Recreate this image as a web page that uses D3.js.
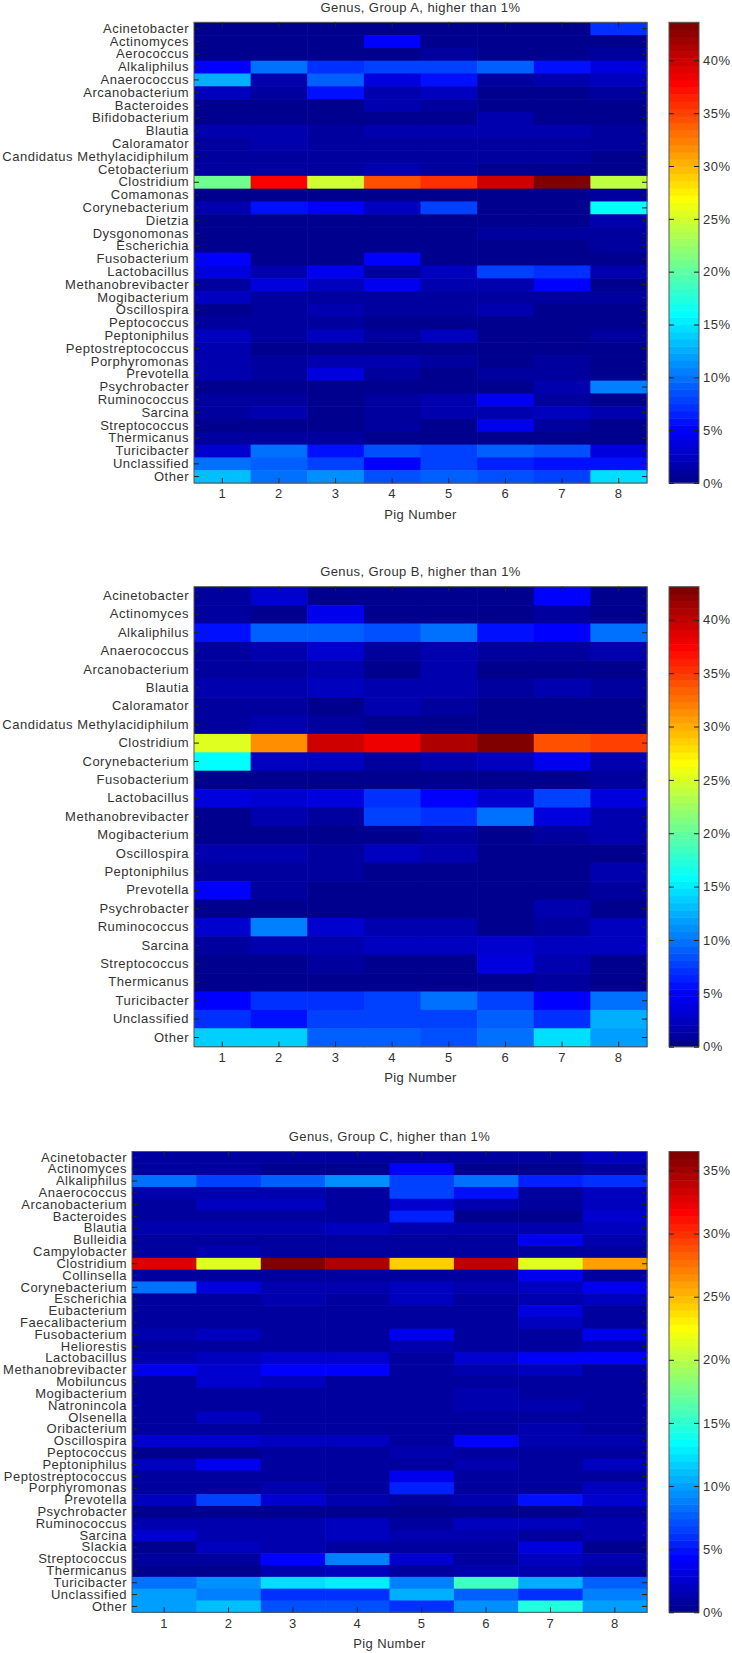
<!DOCTYPE html>
<html><head><meta charset="utf-8">
<script src="https://cdn.jsdelivr.net/npm/d3@7"></script>
<style>
html,body{margin:0;padding:0;background:#fff;}
svg text{font-family:"Liberation Sans",Arial,Helvetica,sans-serif;}
</style></head><body>
<svg id="chart" width="732" height="1653"></svg>
<script>
const pigs = ["1","2","3","4","5","6","7","8"];
const xLabel = "Pig Number";

const titleA = "Genus, Group A, higher than 1%";
const generaA = ["Acinetobacter","Actinomyces","Aerococcus","Alkaliphilus","Anaerococcus","Arcanobacterium","Bacteroides","Bifidobacterium","Blautia","Caloramator","Candidatus Methylacidiphilum","Cetobacterium","Clostridium","Comamonas","Corynebacterium","Dietzia","Dysgonomonas","Escherichia","Fusobacterium","Lactobacillus","Methanobrevibacter","Mogibacterium","Oscillospira","Peptococcus","Peptoniphilus","Peptostreptococcus","Porphyromonas","Prevotella","Psychrobacter","Ruminococcus","Sarcina","Streptococcus","Thermicanus","Turicibacter","Unclassified","Other"];
const valuesA = [
  [0.3,0.3,0.3,0.4,0.3,0.3,0.3,7.0],
  [0.3,0.2,0.2,4.8,0.3,0.3,0.3,0.5],
  [0.3,0.3,0.3,0.5,1.0,0.5,0.5,1.0],
  [5.2,9.8,7.3,7.5,8.0,9.5,5.5,3.5],
  [12.5,1.5,9.5,3.5,6.0,0.8,1.8,2.5],
  [2.7,0.8,6.0,2.0,2.3,0.5,0.5,1.3],
  [0.5,0.5,0.5,1.8,0.8,0.5,0.5,0.5],
  [0.4,0.4,0.4,0.4,0.4,1.5,0.5,0.4],
  [2.0,1.5,1.3,1.8,1.8,1.8,1.8,0.8],
  [1.0,1.8,1.0,0.7,0.7,0.7,0.7,0.7],
  [0.8,0.8,1.2,0.8,0.8,1.2,0.8,0.6],
  [1.3,1.0,1.0,1.5,0.8,0.6,0.6,0.6],
  [20.5,38.0,25.0,34.5,36.0,40.0,43.6,24.5],
  [0.5,0.5,0.5,0.5,0.5,0.5,0.5,1.0],
  [1.5,5.5,5.3,2.7,7.5,0.5,0.5,16.0],
  [0.4,0.4,0.4,0.4,0.4,0.4,0.4,2.0],
  [0.4,0.4,0.4,0.4,0.4,1.2,1.2,0.8],
  [0.5,0.5,0.5,0.5,0.5,0.5,0.5,1.0],
  [4.8,0.5,0.5,5.3,0.5,0.5,0.5,0.6],
  [3.5,2.0,4.5,0.8,2.3,7.5,7.0,1.8],
  [0.8,4.0,2.7,4.5,2.0,1.8,5.0,0.6],
  [2.2,1.2,1.2,0.8,0.8,0.8,0.8,0.8],
  [0.4,1.0,1.5,1.2,0.8,1.8,0.6,0.6],
  [1.2,0.8,1.2,0.6,0.6,0.6,0.6,0.6],
  [2.7,0.8,2.5,1.2,2.6,0.6,0.6,1.0],
  [1.8,0.6,0.6,0.6,0.6,0.6,0.6,0.6],
  [1.8,0.8,1.5,1.5,1.0,0.6,0.8,0.6],
  [2.0,0.8,3.8,0.8,0.5,1.0,0.8,0.5],
  [0.6,0.6,0.6,0.6,0.6,0.6,1.5,10.3],
  [0.8,0.8,0.6,0.8,1.5,4.2,0.8,0.4],
  [0.8,1.8,0.6,1.2,1.8,1.8,2.6,1.8],
  [0.4,0.6,0.4,1.2,0.6,4.5,1.0,0.6],
  [0.8,0.8,0.8,0.3,0.4,0.3,0.6,0.3],
  [3.2,10.0,5.5,8.8,7.8,9.5,8.8,3.5],
  [10.0,9.5,7.8,5.0,7.8,6.5,6.0,5.5],
  [13.5,9.8,11.5,8.8,9.2,8.8,7.8,14.5]
];
const cbTicksA = [0,5,10,15,20,25,30,35,40];

const titleB = "Genus, Group B, higher than 1%";
const generaB = ["Acinetobacter","Actinomyces","Alkaliphilus","Anaerococcus","Arcanobacterium","Blautia","Caloramator","Candidatus Methylacidiphilum","Clostridium","Corynebacterium","Fusobacterium","Lactobacillus","Methanobrevibacter","Mogibacterium","Oscillospira","Peptoniphilus","Prevotella","Psychrobacter","Ruminococcus","Sarcina","Streptococcus","Thermicanus","Turicibacter","Unclassified","Other"];
const valuesB = [
  [0.8,2.7,0.5,0.5,0.5,0.5,5.3,0.6],
  [1.0,0.6,4.3,0.5,0.5,0.5,1.0,0.6],
  [6.0,9.0,9.0,8.5,9.5,6.0,4.8,9.5],
  [0.8,1.5,3.2,0.8,1.5,1.2,1.0,2.0],
  [1.2,0.8,1.8,0.6,2.0,0.6,0.6,0.6],
  [2.0,1.5,2.2,1.5,1.5,1.2,1.8,1.2],
  [1.2,1.2,0.5,1.8,1.2,0.6,0.6,0.6],
  [1.0,1.8,1.2,0.6,0.6,0.6,0.6,0.6],
  [25.0,31.5,39.5,38.0,41.0,43.1,34.0,35.0],
  [16.0,2.5,2.5,1.0,1.8,2.2,4.5,2.0],
  [0.5,0.5,0.5,0.5,0.5,0.5,0.5,0.8],
  [3.5,2.8,3.8,7.0,5.0,2.8,7.5,3.5],
  [0.5,1.8,1.0,8.0,7.0,9.5,3.5,1.8],
  [0.6,0.3,0.3,0.3,0.8,0.5,1.0,2.0],
  [1.8,1.5,1.0,2.5,2.0,0.5,0.5,0.3],
  [1.0,1.0,0.8,0.5,0.5,0.5,0.5,1.8],
  [5.0,1.0,0.5,0.5,0.5,0.5,0.5,1.2],
  [0.4,0.4,0.4,0.4,0.4,0.4,1.5,0.6],
  [3.0,10.5,3.0,2.0,1.8,0.4,1.0,2.2],
  [0.8,1.8,1.8,2.5,2.5,3.3,2.5,2.2],
  [0.6,0.3,1.2,0.6,0.3,4.0,1.5,0.3],
  [0.6,0.6,0.6,0.6,0.3,0.3,0.8,0.3],
  [5.0,7.0,7.0,8.0,9.5,7.5,4.8,10.0],
  [7.0,6.0,7.5,8.0,8.0,9.0,7.0,12.5],
  [14.0,13.8,9.0,9.0,8.5,10.0,14.5,12.0]
];
const cbTicksB = [0,5,10,15,20,25,30,35,40];

const titleC = "Genus, Group C, higher than 1%";
const generaC = ["Acinetobacter","Actinomyces","Alkaliphilus","Anaerococcus","Arcanobacterium","Bacteroides","Blautia","Bulleidia","Campylobacter","Clostridium","Collinsella","Corynebacterium","Escherichia","Eubacterium","Faecalibacterium","Fusobacterium","Heliorestis","Lactobacillus","Methanobrevibacter","Mobiluncus","Mogibacterium","Natronincola","Olsenella","Oribacterium","Oscillospira","Peptococcus","Peptoniphilus","Peptostreptococcus","Porphyromonas","Prevotella","Psychrobacter","Ruminococcus","Sarcina","Slackia","Streptococcus","Thermicanus","Turicibacter","Unclassified","Other"];
const valuesC = [
  [0.6,0.6,0.6,0.6,0.6,0.6,0.6,2.0],
  [0.8,0.8,0.5,0.5,4.3,0.5,0.5,1.0],
  [8.2,6.3,7.8,9.3,6.8,8.5,5.5,5.8],
  [1.2,1.5,1.2,0.6,6.5,4.8,0.8,1.8],
  [0.8,2.0,2.0,0.6,2.3,1.5,0.8,2.0],
  [0.8,0.8,0.6,0.6,5.2,0.5,0.5,2.3],
  [1.2,1.2,1.2,2.0,1.2,1.2,1.5,1.8],
  [0.6,0.6,0.6,0.6,0.6,0.6,3.5,1.5],
  [0.6,1.2,0.6,0.6,0.6,0.6,0.6,0.6],
  [32.6,21.3,36.5,34.5,24.2,34.0,21.5,26.2],
  [0.6,0.6,0.6,0.6,0.6,0.6,3.8,0.8],
  [8.0,3.2,1.2,1.2,2.0,1.5,1.8,3.5],
  [0.8,0.8,1.5,0.8,2.0,1.0,1.2,1.8],
  [0.6,0.6,0.6,0.6,0.6,0.6,3.0,0.8],
  [0.6,0.6,0.6,0.6,0.6,0.6,2.0,0.6],
  [1.5,2.0,0.6,0.6,3.5,0.6,0.6,3.8],
  [0.8,0.8,0.6,0.6,1.2,0.8,0.8,1.2],
  [1.2,1.8,2.3,2.3,1.0,2.3,4.3,4.0],
  [3.8,2.6,4.0,4.0,0.8,1.2,2.0,0.6],
  [0.6,2.5,1.8,0.6,0.6,0.6,0.6,0.6],
  [1.0,1.0,0.6,0.6,0.6,1.5,0.6,0.6],
  [1.0,1.0,1.0,1.0,1.0,1.5,1.5,1.0],
  [0.6,2.0,0.6,0.6,0.6,0.6,0.6,0.6],
  [0.6,0.6,0.6,0.6,0.6,0.6,1.2,0.6],
  [2.5,2.5,2.0,2.0,0.8,4.2,1.5,1.2],
  [0.5,0.5,0.6,0.6,1.2,0.6,0.6,0.6],
  [1.8,3.8,0.6,0.6,0.8,1.2,0.8,1.8],
  [1.0,0.8,0.6,0.6,3.6,0.6,0.6,0.6],
  [0.8,0.8,1.2,0.6,5.2,0.6,0.6,2.0],
  [1.8,6.5,2.5,1.2,0.8,1.2,4.8,2.5],
  [0.5,0.5,0.5,0.5,0.5,0.5,0.5,0.8],
  [1.5,1.5,1.5,2.0,0.6,2.0,1.8,1.2],
  [2.3,1.2,1.5,2.0,1.2,1.5,0.8,1.2],
  [0.5,1.8,1.2,0.6,0.6,0.6,3.3,0.5],
  [0.8,0.8,4.2,8.8,2.5,0.6,2.2,1.5],
  [0.5,0.5,1.2,1.8,0.6,1.2,1.2,0.6],
  [8.5,9.3,12.2,12.8,8.8,15.5,10.8,7.8],
  [9.8,9.0,5.8,5.8,10.8,7.8,6.0,9.0],
  [9.8,11.0,7.2,7.2,6.0,9.3,14.5,10.0]
];
const cbTicksC = [0,5,10,15,20,25,30,35];

// MATLAB-style jet colormap (m entries)
function jet(m){
  const n = Math.ceil(m/4);
  const u = [];
  for(let i=1;i<=n;i++) u.push(i/n);
  for(let i=0;i<n-1;i++) u.push(1);
  for(let i=n;i>=1;i--) u.push(i/n);
  const off = Math.ceil(n/2) - (m%4===1?1:0);
  const J = Array.from({length:m},()=>[0,0,0]);
  const len = u.length;
  const gI=[], rI=[], bI=[];
  for(let k=1;k<=len;k++){ const g=off+k; gI.push(g); rI.push(g+n); bI.push(g-n); }
  const g2=gI.filter(v=>v<=m), r2=rI.filter(v=>v<=m), b2=bI.filter(v=>v>=1);
  r2.forEach((idx,i)=>J[idx-1][0]=u[i]);
  g2.forEach((idx,i)=>J[idx-1][1]=u[i]);
  b2.forEach((idx,i)=>J[idx-1][2]=u[len-b2.length+i]);
  return J.map(c=>d3.rgb(Math.round(c[0]*255),Math.round(c[1]*255),Math.round(c[2]*255)).formatHex());
}
const jetColors = jet(64);

const svg = d3.select("#chart");
const TEXT = "#333";
const FONT = 13;

function styleAxis(sel, showText){
  sel.select(".domain").remove();
  sel.selectAll(".tick line").attr("stroke","#222");
  sel.attr("font-family",null).attr("font-size",FONT);
  if(!showText) sel.selectAll(".tick text").remove();
  else sel.selectAll(".tick text").attr("fill",TEXT).style("letter-spacing","0.5px");
}

function drawPanel(cfg){
  const g = svg.append("g");
  const x = d3.scaleBand().domain(pigs).range([cfg.left, cfg.right]);
  const y = d3.scaleBand().domain(cfg.genera).range([cfg.top, cfg.bottom]);
  const vmax = d3.max(cfg.values.flat());
  const color = d3.scaleQuantize().domain([0, vmax]).range(jetColors);
  const cells = cfg.values.flatMap((row,i)=>row.map((v,j)=>({genus:cfg.genera[i], pig:pigs[j], v})));
  g.append("g").selectAll("rect").data(cells).join("rect")
    .attr("x",d=>x(d.pig)).attr("y",d=>y(d.genus))
    .attr("width",x.bandwidth()+0.6).attr("height",y.bandwidth()+0.6)
    .attr("fill",d=>color(d.v));
  // frame
  g.append("rect").attr("x",cfg.left).attr("y",cfg.top)
    .attr("width",cfg.right-cfg.left).attr("height",cfg.bottom-cfg.top)
    .attr("fill","none").attr("stroke","#555").attr("stroke-width",1);
  // axes (ticks inward)
  g.append("g").attr("transform",`translate(${cfg.left},0)`)
    .call(d3.axisLeft(y).tickSizeInner(-5).tickSizeOuter(0).tickPadding(5))
    .call(s=>styleAxis(s,true));
  g.append("g").attr("transform",`translate(${cfg.right},0)`)
    .call(d3.axisRight(y).tickSizeInner(-5).tickSizeOuter(0))
    .call(s=>styleAxis(s,false));
  g.append("g").attr("transform",`translate(0,${cfg.top})`)
    .call(d3.axisTop(x).tickSizeInner(-5).tickSizeOuter(0))
    .call(s=>styleAxis(s,false));
  g.append("g").attr("transform",`translate(0,${cfg.bottom})`)
    .call(d3.axisBottom(x).tickSizeInner(-5).tickSizeOuter(0).tickPadding(6))
    .call(s=>styleAxis(s,true));
  // title and x label
  const cx = (cfg.left+cfg.right)/2;
  g.append("text").attr("x",cx).attr("y",cfg.top-15).attr("dy","0.35em")
    .attr("text-anchor","middle").attr("font-size",FONT).attr("fill",TEXT)
    .style("letter-spacing","0.4px").text(cfg.title);
  g.append("text").attr("x",cx).attr("y",cfg.bottom+31).attr("dy","0.35em")
    .attr("text-anchor","middle").attr("font-size",FONT).attr("fill",TEXT)
    .style("letter-spacing","0.4px").text(xLabel);
  // colorbar
  const cb = d3.scaleLinear().domain([0, vmax]).range([cfg.bottom, cfg.top]);
  const steps = d3.range(jetColors.length);
  const sw = vmax/jetColors.length;
  g.append("g").selectAll("rect").data(steps).join("rect")
    .attr("x",cfg.cbLeft).attr("width",cfg.cbRight-cfg.cbLeft)
    .attr("y",i=>cb((i+1)*sw)).attr("height",i=>cb(i*sw)-cb((i+1)*sw)+0.5)
    .attr("fill",i=>jetColors[i]);
  g.append("rect").attr("x",cfg.cbLeft).attr("y",cfg.top)
    .attr("width",cfg.cbRight-cfg.cbLeft).attr("height",cfg.bottom-cfg.top)
    .attr("fill","none").attr("stroke","#555").attr("stroke-width",1);
  g.append("g").attr("transform",`translate(${cfg.cbRight},0)`)
    .call(d3.axisRight(cb).tickValues(cfg.cbTicks).tickFormat(d=>d+"%").tickSizeInner(-5).tickSizeOuter(0).tickPadding(4))
    .call(s=>styleAxis(s,true));
  g.append("g").attr("transform",`translate(${cfg.cbLeft},0)`)
    .call(d3.axisLeft(cb).tickValues(cfg.cbTicks).tickSizeInner(-5).tickSizeOuter(0))
    .call(s=>styleAxis(s,false));
}

drawPanel({title:titleA, genera:generaA, values:valuesA, cbTicks:cbTicksA,
  left:194, right:647, top:22.3, bottom:483, cbLeft:669, cbRight:699});
drawPanel({title:titleB, genera:generaB, values:valuesB, cbTicks:cbTicksB,
  left:194, right:647, top:586.7, bottom:1046.7, cbLeft:669, cbRight:699});
drawPanel({title:titleC, genera:generaC, values:valuesC, cbTicks:cbTicksC,
  left:132, right:647, top:1151.5, bottom:1612.3, cbLeft:669, cbRight:699});
</script>
</body></html>
